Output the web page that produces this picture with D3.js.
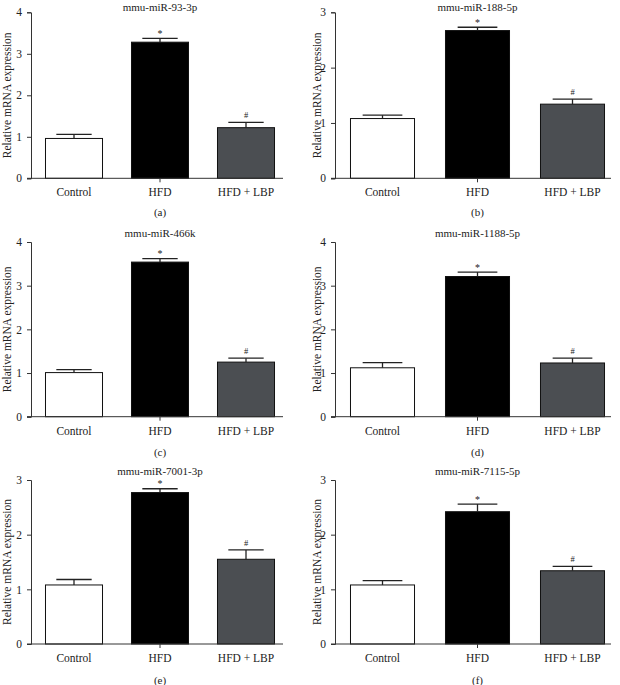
<!DOCTYPE html>
<html><head><meta charset="utf-8">
<script src="https://cdn.jsdelivr.net/npm/d3@7"></script>
<style>
body{margin:0;background:#fff;}
</style></head>
<body><svg id="c" width="620" height="685"></svg>
<script>
const categories = ["Control", "HFD", "HFD + LBP"];
const titles = ["mmu-miR-93-3p", "mmu-miR-188-5p", "mmu-miR-466k", "mmu-miR-1188-5p", "mmu-miR-7001-3p", "mmu-miR-7115-5p"];
const panelLabels = ["(a)", "(b)", "(c)", "(d)", "(e)", "(f)"];
const meanA = [0.96, 3.28, 1.22];
const errA  = [0.10, 0.09, 0.13];
const meanB = [1.08, 2.67, 1.34];
const errB  = [0.06, 0.06, 0.09];
const meanC = [1.01, 3.54, 1.25];
const errC  = [0.07, 0.08, 0.09];
const meanD = [1.12, 3.21, 1.23];
const errD  = [0.12, 0.10, 0.11];
const meanE = [1.08, 2.77, 1.55];
const errE  = [0.10, 0.07, 0.17];
const meanF = [1.08, 2.42, 1.34];
const errF  = [0.08, 0.14, 0.08];
const yMaxes = [4, 3, 4, 4, 3, 3];
const marks = ["*", "#"];  // significance markers over HFD and HFD + LBP
const yLabel = "Relative mRNA expression";

const means = [meanA, meanB, meanC, meanD, meanE, meanF];
const errs = [errA, errB, errC, errD, errE, errF];
const fills = ["#ffffff", "#000000", "#4b4e52"];
const FONT = "'Liberation Serif', 'DejaVu Serif', serif";

const svg = d3.select("#c");
const cols = [
  {x0: 31, x1: 289, xEnd: 283, pi: 0.337, lab: 7},
  {x0: 335, x1: 620, xEnd: 611, pi: 0.326, lab: 317}
];
const rows = [
  {top: 12.3, bottom: 178.3, cap: 212, title: 10.5},
  {top: 242, bottom: 416.7, cap: 452, title: 237},
  {top: 480, bottom: 644, cap: 680, title: 475}
];

function txt(sel) {
  return sel.style("font-family", FONT).style("fill", "#222");
}

titles.forEach((t, i) => {
  const c = cols[i % 2], r = rows[Math.floor(i / 2)];
  const g = svg.append("g");
  const x = d3.scaleBand().domain(categories).range([c.x0, c.x1])
    .paddingInner(c.pi).paddingOuter(c.pi / 2);
  const y = d3.scaleLinear().domain([0, yMaxes[i]]).range([r.bottom, r.top]);
  const bw = x.bandwidth();

  // y axis
  const ya = g.append("g").attr("transform", `translate(${c.x0},0)`)
    .call(d3.axisLeft(y).ticks(yMaxes[i]).tickFormat(d3.format("d")).tickSize(4).tickPadding(5));
  ya.select(".domain").attr("stroke", "#333");
  ya.selectAll(".tick line").attr("stroke", "#333");
  txt(ya.selectAll(".tick text")).style("font-size", "11.5px");

  // bars
  const data = categories.map((k, j) => ({k, v: means[i][j], e: errs[i][j], j}));
  g.selectAll("rect.bar").data(data).enter().append("rect")
    .attr("x", d => x(d.k)).attr("width", bw)
    .attr("y", d => y(d.v)).attr("height", d => y(0) - y(d.v))
    .attr("fill", d => fills[d.j]).attr("stroke", "#111").attr("stroke-width", 1);

  // error bars (upper)
  const capW = bw * 0.62;
  data.forEach(d => {
    const cx = x(d.k) + bw / 2;
    g.append("line").attr("x1", cx).attr("x2", cx).attr("y1", y(d.v)).attr("y2", y(d.v + d.e))
      .attr("stroke", "#222").attr("stroke-width", 1.3);
    g.append("line").attr("x1", cx - capW / 2).attr("x2", cx + capW / 2).attr("y1", y(d.v + d.e)).attr("y2", y(d.v + d.e))
      .attr("stroke", "#222").attr("stroke-width", 1.3);
    if (d.j > 0) {
      txt(g.append("text").attr("x", cx).attr("y", y(d.v + d.e) - (d.j === 1 ? 1.5 : 4))
        .attr("text-anchor", "middle")).style("font-size", d.j === 1 ? "10px" : "8.5px").text(marks[d.j - 1]);
    }
  });

  // x axis line
  g.append("line").attr("x1", c.x0 - 4).attr("x2", c.xEnd).attr("y1", y(0)).attr("y2", y(0))
    .attr("stroke", "#333").attr("stroke-width", 1);
  const hx = x(categories[1]) + bw / 2;
  g.append("line").attr("x1", hx).attr("x2", hx).attr("y1", y(0)).attr("y2", y(0) + 4)
    .attr("stroke", "#333").attr("stroke-width", 1);

  // category labels
  txt(g.selectAll("text.cat").data(categories).enter().append("text")
    .attr("x", d => x(d) + bw / 2).attr("y", y(0) + 18)
    .attr("text-anchor", "middle")).style("font-size", "11.5px").text(d => d);

  // title
  txt(g.append("text").attr("x", hx).attr("y", r.title)
    .attr("text-anchor", "middle")).style("font-size", "11px").text(t);

  // y label
  txt(g.append("text").attr("transform", `translate(${c.lab},${(r.top + r.bottom) / 2}) rotate(-90)`)
    .attr("text-anchor", "middle").attr("dy", "0.35em")).style("font-size", "11.5px").text(yLabel);

  // panel label
  txt(g.append("text").attr("x", hx).attr("y", r.cap + 4)
    .attr("text-anchor", "middle")).style("font-size", "11px").text(panelLabels[i]);
});
</script></body></html>
